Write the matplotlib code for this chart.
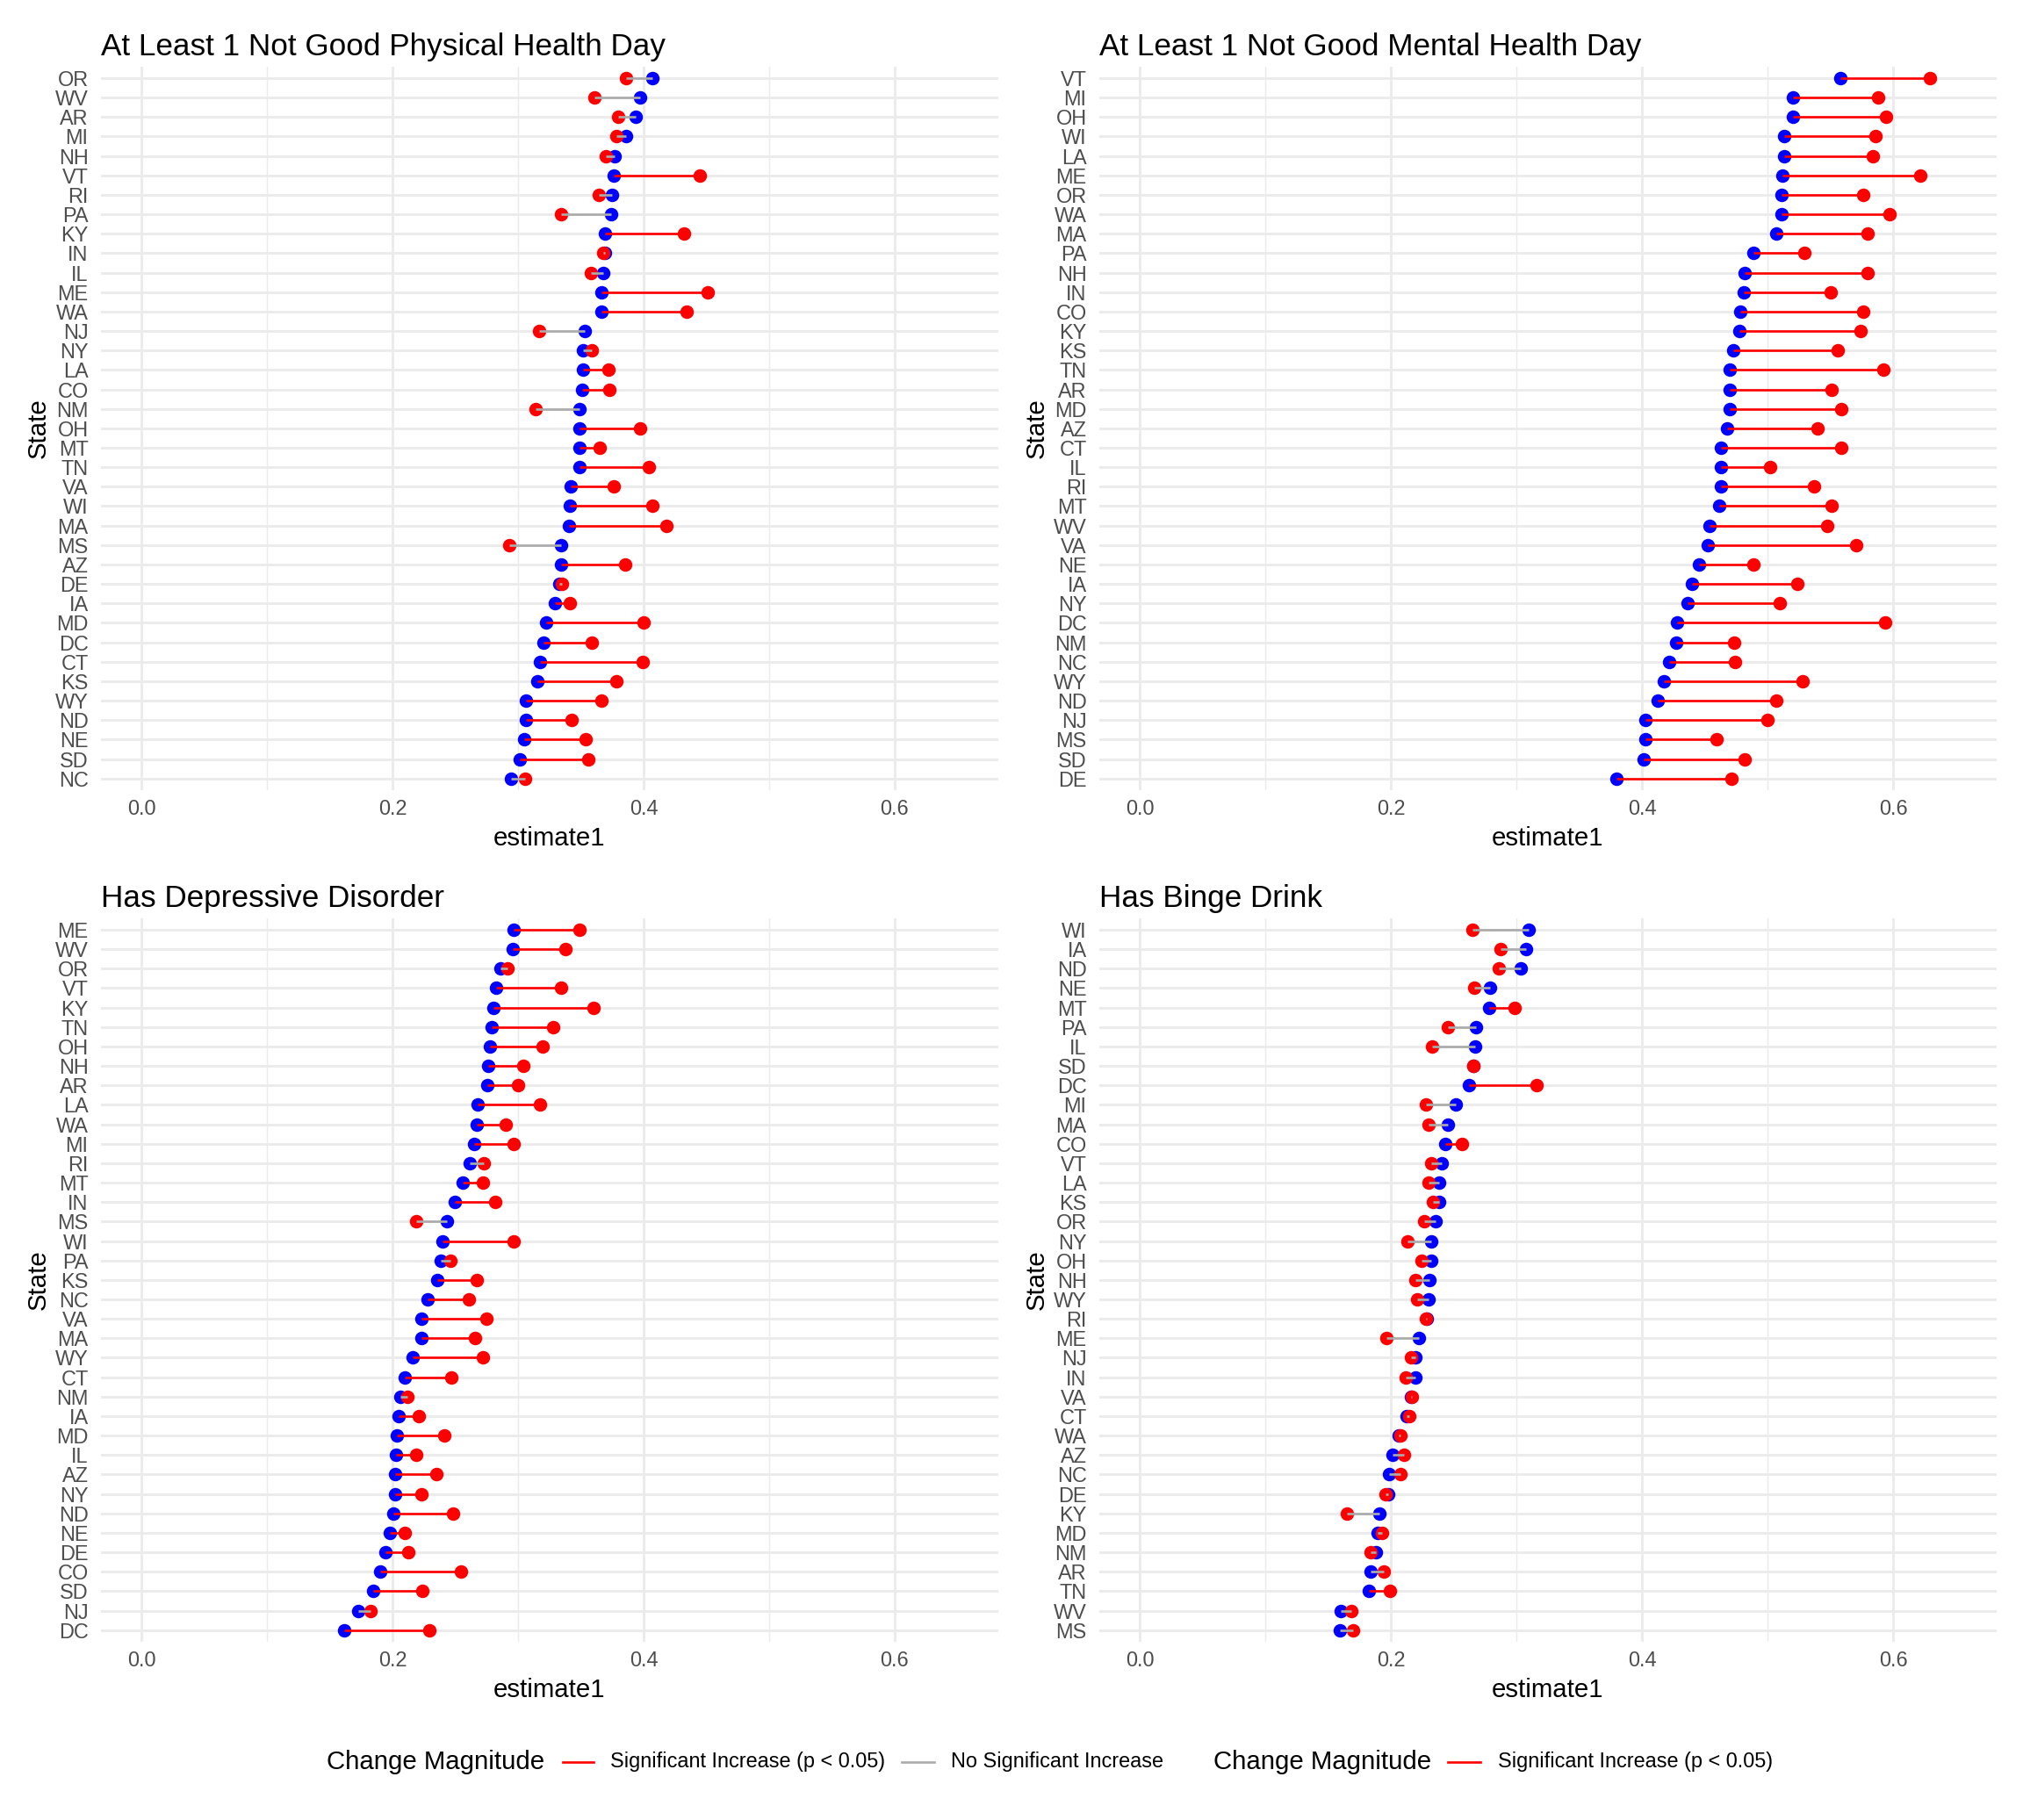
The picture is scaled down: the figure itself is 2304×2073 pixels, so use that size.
import matplotlib
matplotlib.use("Agg")
import matplotlib.pyplot as plt
from matplotlib.lines import Line2D

plt.rcParams['font.family'] = ['Liberation Sans', 'DejaVu Sans']

# ---------------- data ----------------
phys_states = ["OR", "WV", "AR", "MI", "NH", "VT", "RI", "PA", "KY", "IN", "IL", "ME", "WA", "NJ",
               "NY", "LA", "CO", "NM", "OH", "MT", "TN", "VA", "WI", "MA", "MS", "AZ", "DE", "IA",
               "MD", "DC", "CT", "KS", "WY", "ND", "NE", "SD", "NC"]
phys_e1 = [0.407, 0.3975, 0.394, 0.386, 0.377, 0.376, 0.375, 0.374, 0.369, 0.369, 0.368, 0.3665, 0.3665,
           0.353, 0.352, 0.352, 0.351, 0.349, 0.349, 0.349, 0.349, 0.342, 0.341, 0.3405, 0.334, 0.334,
           0.333, 0.3294, 0.322, 0.320, 0.3176, 0.3155, 0.306, 0.306, 0.305, 0.301, 0.2945]
phys_e2 = [0.386, 0.361, 0.380, 0.378, 0.370, 0.445, 0.364, 0.334, 0.432, 0.368, 0.358, 0.451, 0.434,
           0.317, 0.359, 0.372, 0.3725, 0.314, 0.397, 0.365, 0.404, 0.376, 0.407, 0.418, 0.293, 0.385,
           0.335, 0.3415, 0.400, 0.3586, 0.399, 0.3786, 0.3665, 0.3426, 0.354, 0.356, 0.3055]
phys_sig = [0, 0, 0, 0, 0, 1, 0, 0, 1, 0, 0, 1, 1, 0, 0, 1, 1, 0, 1, 1, 1, 1, 1, 1, 0, 1, 0, 1,
            1, 1, 1, 1, 1, 1, 1, 1, 0]

ment_states = ["VT", "MI", "OH", "WI", "LA", "ME", "OR", "WA", "MA", "PA", "NH", "IN", "CO", "KY",
               "KS", "TN", "AR", "MD", "AZ", "CT", "IL", "RI", "MT", "WV", "VA", "NE", "IA", "NY",
               "DC", "NM", "NC", "WY", "ND", "NJ", "MS", "SD", "DE"]
ment_e1 = [0.558, 0.520, 0.520, 0.513, 0.513, 0.512, 0.511, 0.511, 0.507, 0.489, 0.482, 0.481, 0.4785,
           0.4774, 0.4728, 0.470, 0.4697, 0.4697, 0.468, 0.463, 0.4626, 0.4626, 0.4615, 0.454, 0.4523,
           0.445, 0.440, 0.4364, 0.4277, 0.427, 0.4215, 0.4174, 0.4128, 0.403, 0.4026, 0.401, 0.3795]
ment_e2 = [0.629, 0.588, 0.594, 0.586, 0.584, 0.6215, 0.576, 0.597, 0.5795, 0.529, 0.5795, 0.550, 0.576,
           0.574, 0.556, 0.592, 0.551, 0.5585, 0.540, 0.5585, 0.502, 0.537, 0.551, 0.5477, 0.5708,
           0.489, 0.5236, 0.5097, 0.5933, 0.4733, 0.4738, 0.528, 0.507, 0.500, 0.459, 0.482, 0.4713]
ment_sig = [1] * 37

dep_states = ["ME", "WV", "OR", "VT", "KY", "TN", "OH", "NH", "AR", "LA", "WA", "MI", "RI", "MT",
              "IN", "MS", "WI", "PA", "KS", "NC", "VA", "MA", "WY", "CT", "NM", "IA", "MD", "IL",
              "AZ", "NY", "ND", "NE", "DE", "CO", "SD", "NJ", "DC"]
dep_e1 = [0.2963, 0.296, 0.286, 0.2827, 0.280, 0.2788, 0.2774, 0.276, 0.2752, 0.268, 0.2667, 0.2652,
          0.2613, 0.2556, 0.2492, 0.243, 0.240, 0.2385, 0.2353, 0.2275, 0.2228, 0.2228, 0.216, 0.2096,
          0.2064, 0.205, 0.2032, 0.2025, 0.2021, 0.2021, 0.2004, 0.1979, 0.194, 0.190, 0.1843, 0.1725,
          0.1615]
dep_e2 = [0.349, 0.338, 0.2916, 0.334, 0.360, 0.3276, 0.3194, 0.304, 0.2998, 0.3173, 0.290, 0.2966,
          0.2727, 0.2717, 0.282, 0.219, 0.2966, 0.2463, 0.267, 0.261, 0.2745, 0.2656, 0.272, 0.2467,
          0.2118, 0.2207, 0.2414, 0.2185, 0.235, 0.2228, 0.248, 0.2096, 0.2125, 0.2545, 0.2235, 0.1822,
          0.2292]
dep_sig = [1, 1, 0, 1, 1, 1, 1, 1, 1, 1, 1, 1, 0, 1, 1, 0, 1, 0, 1, 1, 1, 1, 1, 1, 0, 1, 1, 1,
           1, 1, 1, 1, 1, 1, 1, 0, 1]

binge_states = ["WI", "IA", "ND", "NE", "MT", "PA", "IL", "SD", "DC", "MI", "MA", "CO", "VT", "LA",
                "KS", "OR", "NY", "OH", "NH", "WY", "RI", "ME", "NJ", "IN", "VA", "CT", "WA", "AZ",
                "NC", "DE", "KY", "MD", "NM", "AR", "TN", "WV", "MS"]
binge_e1 = [0.3097, 0.3077, 0.303, 0.279, 0.278, 0.2677, 0.2667, 0.2656, 0.262, 0.2518, 0.245, 0.243,
            0.2405, 0.2385, 0.238, 0.2354, 0.2323, 0.2318, 0.2308, 0.2297, 0.2287, 0.222, 0.2195,
            0.2195, 0.216, 0.2123, 0.2062, 0.201, 0.1985, 0.198, 0.191, 0.1892, 0.1877, 0.184, 0.1826,
            0.160, 0.159]
binge_e2 = [0.2646, 0.287, 0.2856, 0.266, 0.2985, 0.245, 0.2328, 0.2656, 0.316, 0.2277, 0.2297, 0.2564,
            0.2318, 0.2297, 0.2333, 0.2267, 0.2128, 0.2246, 0.2195, 0.221, 0.2277, 0.1964, 0.2159,
            0.2118, 0.2164, 0.2144, 0.2077, 0.2103, 0.2072, 0.1959, 0.165, 0.1928, 0.1836, 0.1944,
            0.199, 0.168, 0.1697]
binge_sig = [0, 0, 0, 0, 1, 0, 0, 0, 1, 0, 0, 1, 0, 0, 0, 0, 0, 0, 0, 0, 0, 0, 0, 0, 0, 0, 0, 0,
             0, 0, 0, 0, 0, 0, 1, 0, 0]

titles = ["At Least 1 Not Good Physical Health Day", "At Least 1 Not Good Mental Health Day",
          "Has Depressive Disorder", "Has Binge Drink"]
x_ticks = [0.0, 0.2, 0.4, 0.6]
x_tick_labels = ["0.0", "0.2", "0.4", "0.6"]
x_minor = [0.1, 0.3, 0.5]
legend_labels = ["Significant Increase (p < 0.05)", "No Significant Increase"]
legend_title = "Change Magnitude"

# ---------------- style ----------------
RED = "#FF0000"
BLUE = "#0000FF"
GRAY = "#ABABAB"
GRID = "#EBEBEB"
TICKC = "#4D4D4D"

W, H = 2304, 2073
DPI = 192
fig = plt.figure(figsize=(W / DPI, H / DPI), dpi=DPI)
fig.patch.set_facecolor("white")

def rect(x0, y0, x1, y1):
    return [x0 / W, 1 - y1 / H, (x1 - x0) / W, (y1 - y0) / H]

rects = [rect(115, 75.7, 1136.7, 900), rect(1252, 75.7, 2274, 900),
         rect(115, 1045.7, 1136.7, 1870), rect(1252, 1045.7, 2274, 1870)]

panels = [(phys_states, phys_e1, phys_e2, phys_sig),
          (ment_states, ment_e1, ment_e2, ment_sig),
          (dep_states, dep_e1, dep_e2, dep_sig),
          (binge_states, binge_e1, binge_e2, binge_sig)]

for (states, e1, e2, sig), r, title in zip(panels, rects, titles):
    ax = fig.add_axes(r)
    n = len(states)
    ys = list(range(n))
    ax.plot(e1, ys, linestyle="none", marker="o", ms=5.8, mew=0, color=BLUE, zorder=3)
    ax.plot(e2, ys, linestyle="none", marker="o", ms=5.8, mew=0, color=RED, zorder=4)
    for yi, a, b, s in zip(ys, e1, e2, sig):
        ax.plot([a, b], [yi, yi], color=RED if s else GRAY, lw=1.0, zorder=5,
                solid_capstyle="butt")
    ax.set_xlim(-0.0325, 0.6825)
    ax.set_ylim(n - 1 + 0.6, -0.6)
    ax.set_yticks(ys)
    ax.set_yticklabels(states)
    ax.set_xticks(x_ticks)
    ax.set_xticklabels(x_tick_labels)
    ax.set_xticks(x_minor, minor=True)
    ax.grid(which="major", axis="both", color=GRID, lw=1.07, zorder=0)
    ax.grid(which="minor", axis="x", color=GRID, lw=0.55, zorder=0)
    ax.set_axisbelow(True)
    for sp in ax.spines.values():
        sp.set_visible(False)
    ax.tick_params(axis="both", which="both", length=0, labelsize=8.8, labelcolor=TICKC)
    ax.tick_params(axis="y", pad=5.4)
    ax.tick_params(axis="x", pad=3.7)
    ax.set_xlabel("estimate1", fontsize=11, color="black")
    ax.set_ylabel("State", fontsize=11, color="black")
    ax.xaxis.set_label_coords(0.5, -0.0497)
    ax.yaxis.set_label_coords(-0.056, 0.5)
    ax.set_title(title, loc="left", fontsize=13.2, color="black", pad=4.65)

# ---------------- legend (bottom) ----------------
def fx(px):
    return px / W

def fy(py):
    return 1 - py / H

ly = 2007
fig.text(fx(372), fy(ly), legend_title, fontsize=11, va="center", ha="left")
fig.add_artist(Line2D([fx(641), fx(676)], [fy(ly), fy(ly)], color=RED, lw=1.0,
                      transform=fig.transFigure))
fig.text(fx(695), fy(ly), legend_labels[0], fontsize=8.8, va="center", ha="left")
fig.add_artist(Line2D([fx(1027), fx(1064)], [fy(ly), fy(ly)], color=GRAY, lw=1.0,
                      transform=fig.transFigure))
fig.text(fx(1083), fy(ly), legend_labels[1], fontsize=8.8, va="center", ha="left")
fig.text(fx(1382), fy(ly), legend_title, fontsize=11, va="center", ha="left")
fig.add_artist(Line2D([fx(1649), fx(1686)], [fy(ly), fy(ly)], color=RED, lw=1.0,
                      transform=fig.transFigure))
fig.text(fx(1706), fy(ly), legend_labels[0], fontsize=8.8, va="center", ha="left")

fig.savefig("out.png", dpi=DPI, facecolor="white")
